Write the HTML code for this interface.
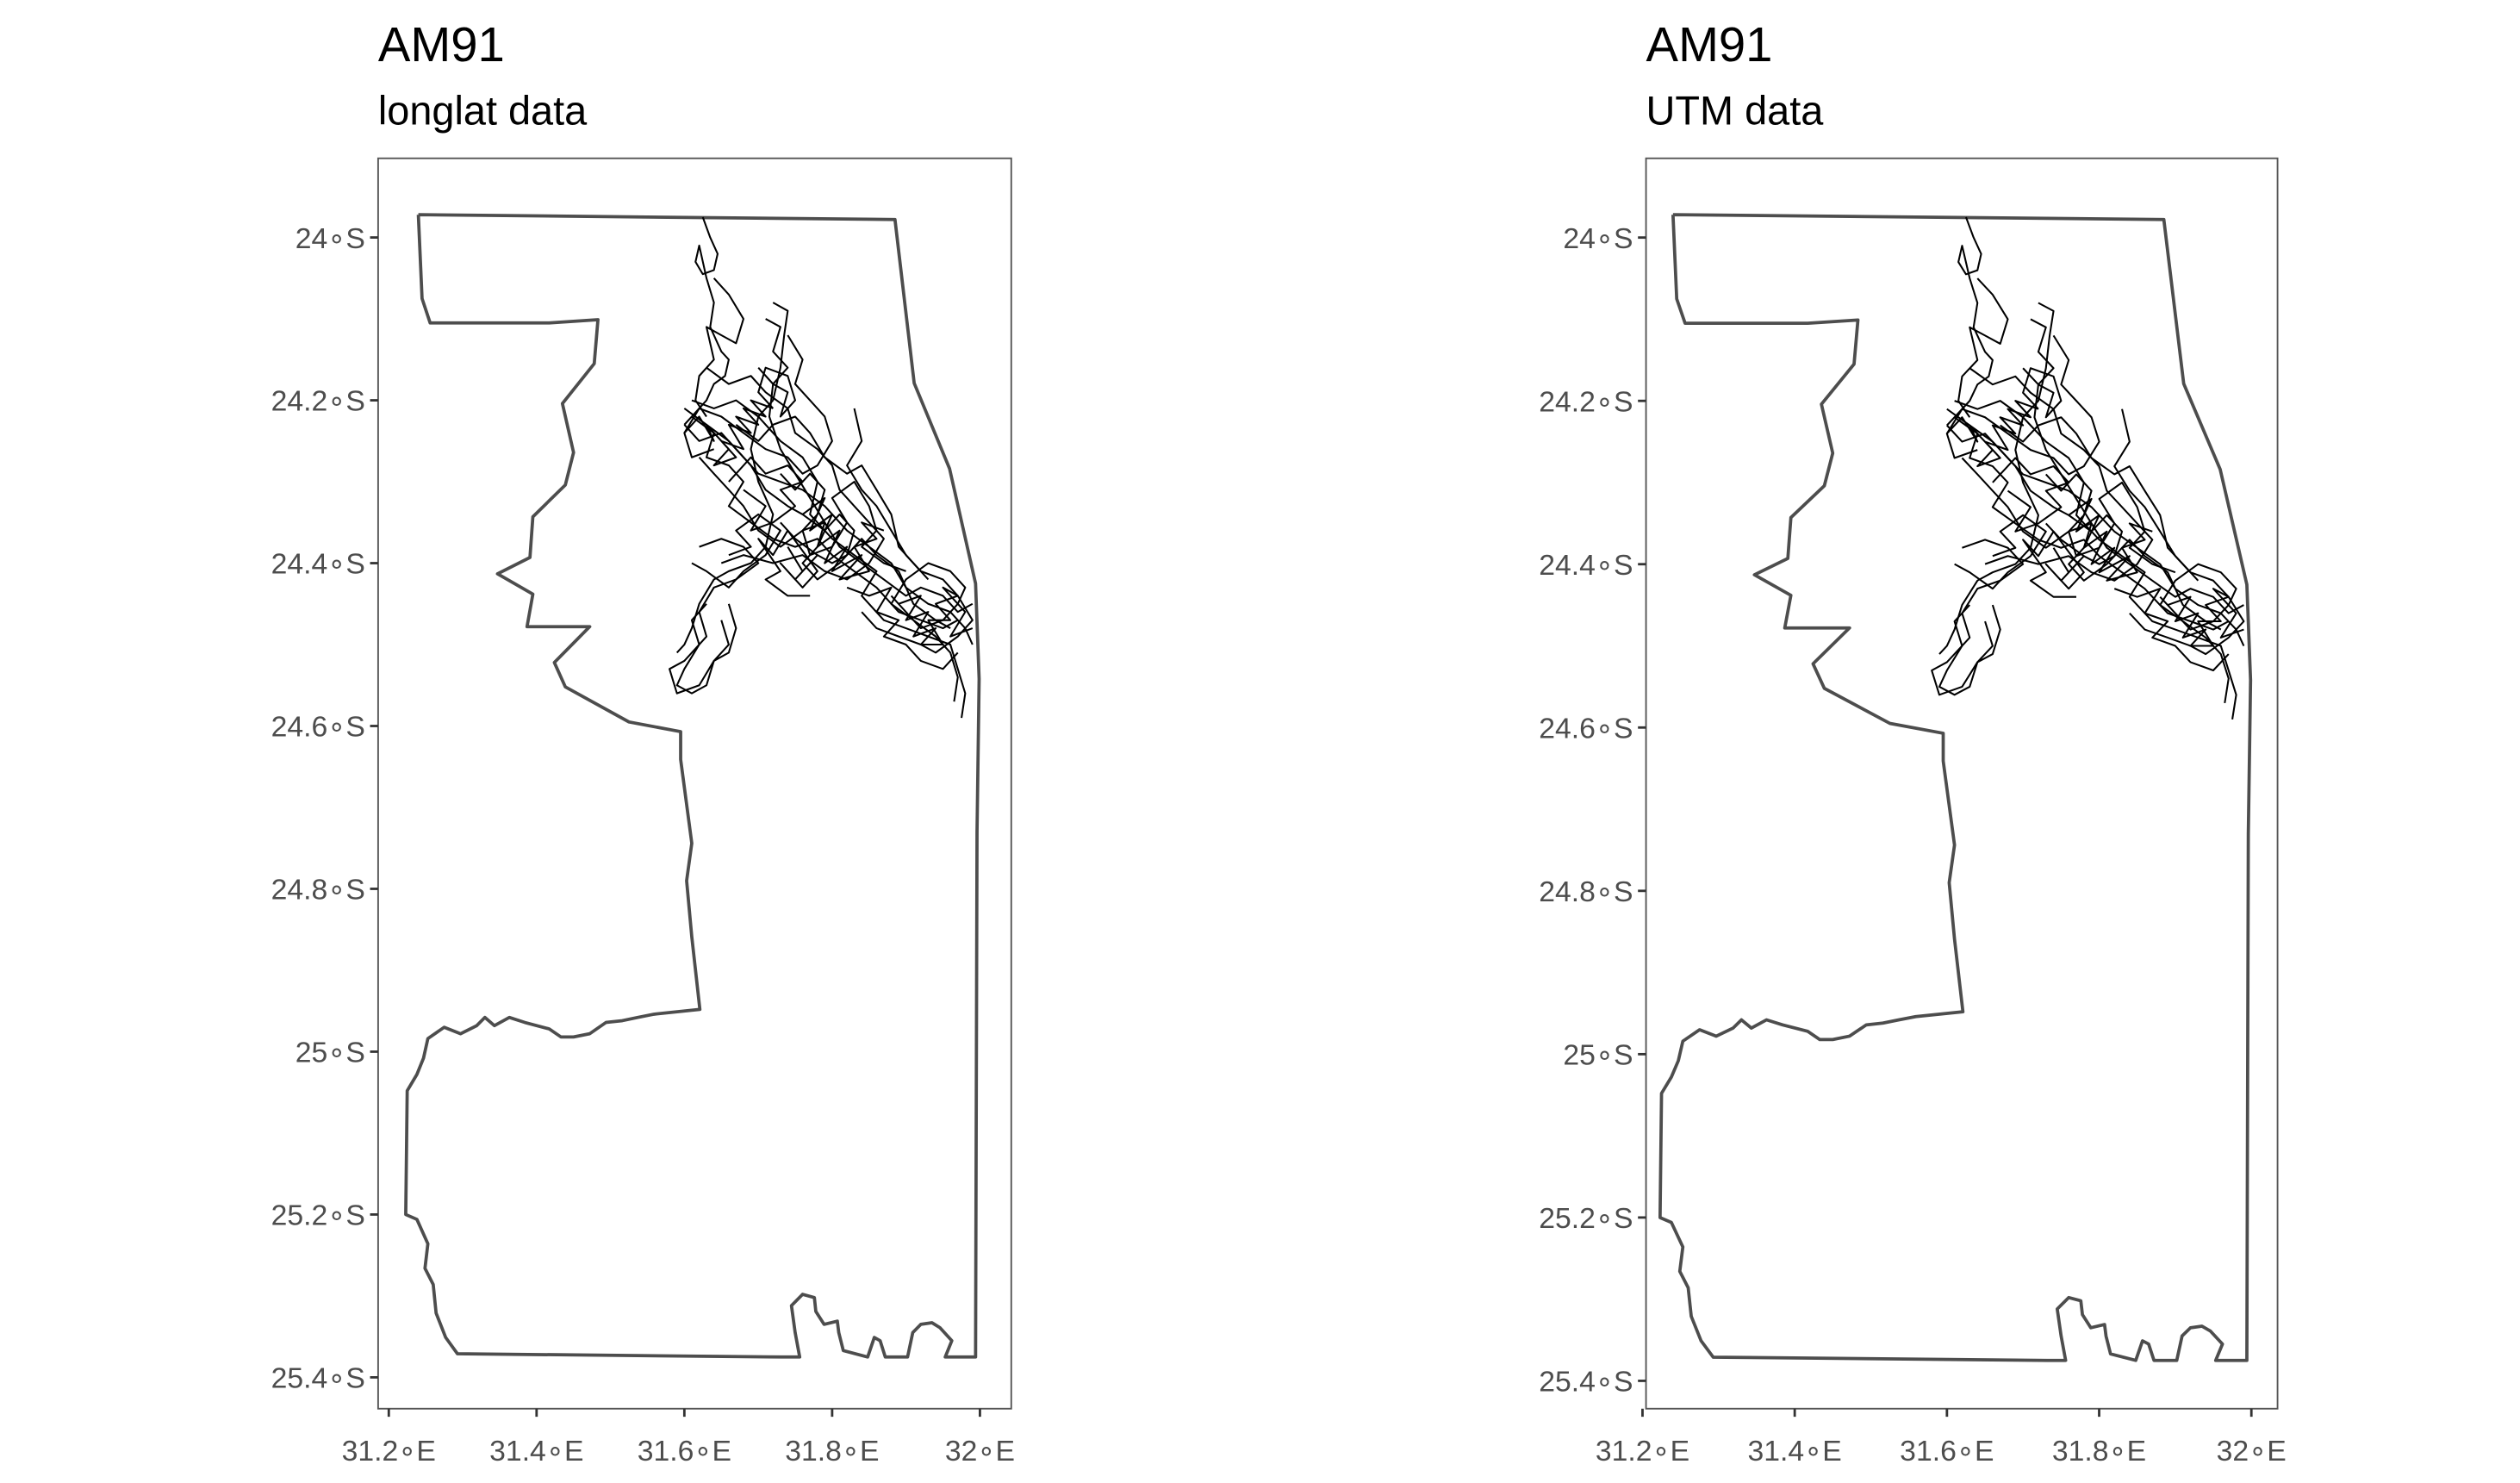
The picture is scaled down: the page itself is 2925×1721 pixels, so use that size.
<!DOCTYPE html>
<html><head><meta charset="utf-8"><style>
html,body{margin:0;padding:0;background:#fff;}
svg{display:block;}
text{font-family:"Liberation Sans",sans-serif;}
</style></head><body>
<svg id="chart" width="2925" height="1721" viewBox="0 0 1560 918" xmlns="http://www.w3.org/2000/svg">
<rect x="0" y="0" width="1560" height="918" fill="#fff"/>
<g id="left"></g>
<g id="right"></g>
</svg>
<script>
const boundaryLon=[31.240,31.885,31.911,31.959,31.994,31.999,31.996,31.994,31.953,31.962,31.946,31.935,31.920,31.909,31.902,31.872,31.865,31.857,31.848,31.815,31.809,31.807,31.789,31.778,31.776,31.760,31.745,31.750,31.756,31.732,31.293,31.277,31.264,31.260,31.249,31.253,31.238,31.223,31.225,31.238,31.247,31.253,31.275,31.297,31.319,31.330,31.343,31.363,31.384,31.417,31.433,31.450,31.472,31.494,31.516,31.537,31.559,31.621,31.610,31.603,31.610,31.595,31.595,31.525,31.439,31.424,31.472,31.387,31.395,31.347,31.391,31.395,31.439,31.450,31.435,31.478,31.483,31.417,31.330,31.256,31.245,31.240];
const boundaryLat=[23.972,23.978,24.179,24.284,24.425,24.542,24.730,25.375,25.375,25.355,25.339,25.333,25.335,25.345,25.375,25.375,25.355,25.351,25.375,25.367,25.345,25.331,25.335,25.319,25.302,25.298,25.312,25.345,25.375,25.375,25.371,25.351,25.321,25.286,25.266,25.236,25.206,25.200,25.048,25.028,25.008,24.984,24.970,24.978,24.968,24.958,24.968,24.958,24.964,24.972,24.982,24.982,24.978,24.964,24.962,24.958,24.954,24.948,24.859,24.790,24.744,24.641,24.607,24.595,24.552,24.522,24.478,24.478,24.438,24.413,24.393,24.343,24.304,24.264,24.204,24.155,24.101,24.105,24.105,24.105,24.075,23.972];
const tracks=[
[[31.625,23.975],[31.635,24.00],[31.645,24.02],[31.64,24.04],[31.625,24.045],[31.615,24.03],[31.62,24.01],[31.63,24.05],[31.64,24.08],[31.635,24.11],[31.65,24.14],[31.66,24.15],[31.655,24.17],[31.64,24.18],[31.63,24.20],[31.61,24.22],[31.60,24.23]],
[[31.60,24.23],[31.62,24.25],[31.65,24.24],[31.68,24.27],[31.70,24.29],[31.73,24.30],[31.76,24.31],[31.79,24.33],[31.82,24.36],[31.85,24.38],[31.88,24.40],[31.90,24.43],[31.93,24.45],[31.96,24.46],[31.98,24.48],[31.99,24.50]],
[[31.72,24.08],[31.74,24.09],[31.735,24.12],[31.73,24.16],[31.72,24.20],[31.70,24.22],[31.69,24.26],[31.70,24.30],[31.72,24.34],[31.71,24.38],[31.69,24.40],[31.66,24.41],[31.64,24.42],[31.62,24.45],[31.61,24.48],[31.60,24.50],[31.59,24.51]],
[[31.61,24.20],[31.64,24.21],[31.67,24.20],[31.70,24.22],[31.73,24.25],[31.76,24.27],[31.78,24.30],[31.77,24.34],[31.80,24.37],[31.83,24.39],[31.86,24.41],[31.84,24.44],[31.87,24.47],[31.90,24.48],[31.93,24.49],[31.96,24.50],[31.97,24.53],[31.98,24.56],[31.975,24.59]],
[[31.63,24.16],[31.66,24.18],[31.69,24.17],[31.71,24.19],[31.74,24.21],[31.75,24.24],[31.78,24.26],[31.80,24.28],[31.81,24.31],[31.83,24.33],[31.85,24.35],[31.87,24.37],[31.85,24.40],[31.82,24.42],[31.79,24.41],[31.76,24.39],[31.72,24.40],[31.68,24.39],[31.65,24.40]],
[[31.62,24.27],[31.64,24.29],[31.66,24.31],[31.68,24.33],[31.70,24.36],[31.73,24.38],[31.76,24.36],[31.79,24.35],[31.81,24.38],[31.84,24.40],[31.87,24.42],[31.90,24.44],[31.92,24.43],[31.95,24.44],[31.97,24.46],[31.99,24.45]],
[[31.74,24.12],[31.76,24.15],[31.75,24.18],[31.77,24.20],[31.79,24.22],[31.80,24.25],[31.78,24.28],[31.76,24.29],[31.74,24.27],[31.71,24.26],[31.68,24.24],[31.65,24.22],[31.62,24.21],[31.60,24.24],[31.61,24.27],[31.64,24.26]],
[[31.83,24.21],[31.84,24.25],[31.82,24.28],[31.84,24.31],[31.86,24.33],[31.88,24.36],[31.90,24.39],[31.92,24.41],[31.95,24.42],[31.97,24.44],[31.99,24.47],[31.97,24.49],[31.94,24.51],[31.92,24.50],[31.89,24.49],[31.86,24.48],[31.84,24.46]],
[[31.62,24.38],[31.65,24.37],[31.68,24.38],[31.70,24.40],[31.67,24.42],[31.64,24.43],[31.62,24.46],[31.63,24.49],[31.60,24.52],[31.58,24.53],[31.59,24.56],[31.62,24.55],[31.64,24.52],[31.66,24.50],[31.65,24.47]],
[[31.70,24.16],[31.72,24.18],[31.715,24.22],[31.73,24.26],[31.75,24.29],[31.77,24.32],[31.79,24.35],[31.78,24.38],[31.76,24.40],[31.78,24.42],[31.81,24.40],[31.84,24.37],[31.86,24.39],[31.89,24.41],[31.91,24.45],[31.94,24.47],[31.96,24.48]],
[[31.60,24.21],[31.63,24.23],[31.66,24.25],[31.69,24.28],[31.71,24.31],[31.74,24.33],[31.76,24.34],[31.79,24.36],[31.81,24.34],[31.83,24.36],[31.82,24.39],[31.80,24.40],[31.78,24.39],[31.75,24.37],[31.73,24.35]],
[[31.88,24.44],[31.90,24.46],[31.92,24.48],[31.95,24.47],[31.97,24.45],[31.98,24.43],[31.96,24.41],[31.93,24.40],[31.90,24.42],[31.88,24.45],[31.91,24.47],[31.94,24.49],[31.96,24.51],[31.97,24.54],[31.965,24.57]],
[[31.66,24.45],[31.67,24.48],[31.66,24.51],[31.64,24.52],[31.63,24.55],[31.61,24.56],[31.59,24.55],[31.60,24.53],[31.62,24.50],[31.61,24.47],[31.63,24.45]],
[[31.67,24.23],[31.70,24.25],[31.72,24.23],[31.75,24.22],[31.77,24.24],[31.79,24.27],[31.82,24.29],[31.84,24.28],[31.86,24.31],[31.88,24.34],[31.89,24.38],[31.91,24.40],[31.93,24.42]],
[[31.61,24.22],[31.64,24.24],[31.63,24.27],[31.66,24.28],[31.68,24.30],[31.66,24.33],[31.69,24.35],[31.72,24.37],[31.75,24.38],[31.78,24.37],[31.80,24.39],[31.83,24.41],[31.86,24.43],[31.89,24.46],[31.92,24.47],[31.95,24.48],[31.97,24.47]],
[[31.73,24.29],[31.75,24.31],[31.77,24.29],[31.79,24.31],[31.78,24.34],[31.76,24.36],[31.77,24.39],[31.80,24.38],[31.82,24.35],[31.80,24.32],[31.83,24.30],[31.85,24.33],[31.86,24.36],[31.84,24.38],[31.87,24.40],[31.90,24.41]],
[[31.60,24.24],[31.62,24.22],[31.64,24.25],[31.63,24.23],[31.66,24.26],[31.64,24.28],[31.67,24.27],[31.65,24.25],[31.68,24.26],[31.66,24.23],[31.69,24.24],[31.67,24.22],[31.70,24.23],[31.68,24.21],[31.71,24.22],[31.69,24.20],[31.72,24.21]],
[[31.76,24.34],[31.79,24.32],[31.77,24.36],[31.80,24.34],[31.78,24.38],[31.81,24.36],[31.79,24.40],[31.82,24.38],[31.80,24.41],[31.84,24.39],[31.81,24.42],[31.85,24.41],[31.83,24.38],[31.86,24.37],[31.84,24.35],[31.87,24.36]],
[[31.89,24.45],[31.92,24.44],[31.90,24.47],[31.93,24.46],[31.91,24.49],[31.94,24.48],[31.92,24.50],[31.95,24.50],[31.93,24.47],[31.96,24.47],[31.94,24.45],[31.97,24.44],[31.95,24.43],[31.98,24.46],[31.96,24.49],[31.99,24.48]],
[[31.74,24.38],[31.76,24.41],[31.78,24.39],[31.75,24.42],[31.73,24.40],[31.76,24.43],[31.78,24.41],[31.74,24.36],[31.72,24.39],[31.70,24.37],[31.73,24.41],[31.71,24.42],[31.74,24.44],[31.77,24.44]],
[[31.71,24.10],[31.73,24.11],[31.72,24.14],[31.74,24.16],[31.72,24.18],[31.74,24.19],[31.73,24.22],[31.75,24.20],[31.74,24.17],[31.71,24.16],[31.70,24.19],[31.72,24.21]],
[[31.64,24.05],[31.66,24.07],[31.68,24.10],[31.67,24.13],[31.65,24.12],[31.63,24.11],[31.64,24.15],[31.62,24.17],[31.615,24.20],[31.63,24.22]],
[[31.82,24.43],[31.85,24.44],[31.88,24.43],[31.86,24.46],[31.89,24.47],[31.87,24.49],[31.90,24.50],[31.92,24.52],[31.95,24.53],[31.97,24.51]],
[[31.68,24.31],[31.71,24.33],[31.69,24.36],[31.72,24.35],[31.75,24.33],[31.73,24.31],[31.76,24.30],[31.74,24.28],[31.71,24.29],[31.69,24.27],[31.66,24.30]],
[[31.66,24.39],[31.69,24.38],[31.67,24.36],[31.70,24.34],[31.73,24.36],[31.71,24.39],[31.68,24.41],[31.66,24.43],[31.63,24.41],[31.61,24.40]]
];
const yTicks=[24.0,24.2,24.4,24.6,24.8,25.0,25.2,25.4];
const yTickLabels=["24∘S","24.2∘S","24.4∘S","24.6∘S","24.8∘S","25∘S","25.2∘S","25.4∘S"];
const xTicks=[31.2,31.4,31.6,31.8,32.0];
const xTickLabels=["31.2∘E","31.4∘E","31.6∘E","31.8∘E","32∘E"];
const subtitles=["longlat data","UTM data"];

const NS="http://www.w3.org/2000/svg";
function xl(lon){return 240.6+(lon-31.2)*457.5;}
function yl(lat){return 147+(lat-24)*504;}
const panels=[
  {id:'left', box:[234,98,392,774], fx:(lon)=>xl(lon), fy:(lat)=>yl(lat)},
  {id:'right',box:[1019,98,391,774], fx:(lon)=>1.03*xl(lon)+769, fy:(lat)=>133+(yl(lat)-133)*1.003}
];
function mk(tag,attrs,parent){const e=document.createElementNS(NS,tag);for(const k in attrs)e.setAttribute(k,attrs[k]);parent.appendChild(e);return e;}
panels.forEach((p,pi)=>{
  const g=document.getElementById(p.id);
  const t=mk('text',{x:p.box[0],y:38,'font-size':30,fill:'#000'},g);t.textContent='AM91';
  
  
  const s=mk('text',{x:p.box[0],y:77,'font-size':25,fill:'#000'},g);s.textContent=subtitles[pi];
  
  
  const r=mk('rect',{x:p.box[0],y:p.box[1],width:p.box[2],height:p.box[3],fill:'none',stroke:'#555',"stroke-width":1},g);
  
  
  let d='';
  boundaryLon.forEach((lon,i)=>{d+=(i?'L':'M')+p.fx(lon).toFixed(1)+','+p.fy(boundaryLat[i]).toFixed(1);});
  const b=mk('path',{d:d,fill:'none',stroke:'#4d4d4d','stroke-width':2,'stroke-linejoin':'round'},g);
  
  
  tracks.forEach((tr)=>{
    let td='';tr.forEach((pt,i)=>{td+=(i?'L':'M')+p.fx(pt[0]).toFixed(1)+','+p.fy(pt[1]).toFixed(1);});
    const tp=mk('path',{d:td,fill:'none',stroke:'#000','stroke-width':1.1,'stroke-linejoin':'round'},g);
    
    
  });
  yTicks.forEach((v,i)=>{
    const y=p.fy(v);
    const l=mk('line',{x1:p.box[0]-5,x2:p.box[0],y1:y,y2:y,stroke:'#333','stroke-width':1.5},g);
    
    
    const tx=mk('text',{x:p.box[0]-8,y:y+6.5,'font-size':18,fill:'#4d4d4d','text-anchor':'end'},g);tx.textContent=yTickLabels[i];
    
    
  });
  xTicks.forEach((v,i)=>{
    const x=p.fx(v);const yb=p.box[1]+p.box[3];
    const l=mk('line',{x1:x,x2:x,y1:yb,y2:yb+5,stroke:'#333','stroke-width':1.5},g);
    
    
    const tx=mk('text',{x:x,y:yb+32,'font-size':18,fill:'#4d4d4d','text-anchor':'middle'},g);tx.textContent=xTickLabels[i];
    
    
  });
});
</script>
</body></html>
